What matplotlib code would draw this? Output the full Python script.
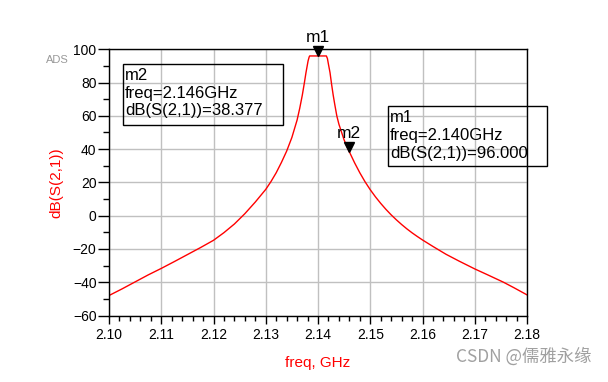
import matplotlib
matplotlib.use('Agg')
import matplotlib.pyplot as plt
from matplotlib.patches import Rectangle
from matplotlib.ticker import MultipleLocator, FormatStrFormatter
import matplotlib.transforms as mtransforms

plt.rcParams['font.family'] = ['Liberation Sans', 'DejaVu Sans']

# S21 curve (GHz, dB)
freq = [2.1000, 2.1025, 2.1050, 2.1075, 2.1100, 2.1125, 2.1150, 2.1175, 2.1200,
        2.1220, 2.1240, 2.1260, 2.1280, 2.1300, 2.1310, 2.1320, 2.1330, 2.1340,
        2.1350, 2.1360, 2.1365, 2.1370, 2.1374, 2.1377, 2.1379, 2.1381, 2.1383,
        2.1384, 2.1400,
        2.1416, 2.1418, 2.1420, 2.1423, 2.1426, 2.1429, 2.1432, 2.1436, 2.1440,
        2.1450, 2.1460, 2.1470, 2.1480, 2.1490, 2.1500, 2.1510, 2.1520, 2.1530,
        2.1540, 2.1550, 2.1560, 2.1570, 2.1580, 2.1590, 2.1600, 2.1620, 2.1645,
        2.1670, 2.1700, 2.1725, 2.1755, 2.1775, 2.1800]
s21_db = [-48.0, -44.0, -39.8, -35.6, -31.7, -27.6, -23.4, -19.2, -14.8,
          -10.2, -5.0, 1.2, 8.2, 15.8, 20.5, 25.8, 32.0, 38.8,
          47.0, 57.5, 64.5, 72.5, 80.0, 86.0, 89.5, 93.0, 95.3,
          96.0, 96.0,
          96.0, 94.5, 91.0, 86.0, 79.0, 72.6, 67.0, 60.0, 55.0,
          45.5, 38.377, 31.8, 25.8, 20.4, 15.6, 11.3, 7.4, 3.8,
          0.5, -2.5, -5.3, -7.9, -10.3, -12.5, -14.6, -18.5, -23.2,
          -27.3, -32.0, -35.6, -40.0, -43.3, -47.6]

markers = ['m1', 'm2']
marker_freq = [2.140, 2.146]
marker_db = [96.000, 38.377]

W, H = 608, 382
fig = plt.figure(figsize=(W / 100, H / 100), dpi=100)
ax = fig.add_axes([109 / W, 1 - 315.5 / H, 418 / W, 266.2 / H])

ax.plot(freq, s21_db, color='red', linewidth=1.0)
ax.set_xlim(2.10, 2.18)
ax.set_ylim(-60, 100)

ax.xaxis.set_major_locator(MultipleLocator(0.01))
ax.xaxis.set_minor_locator(MultipleLocator(0.002))
ax.yaxis.set_major_locator(MultipleLocator(20))
ax.yaxis.set_minor_locator(MultipleLocator(10))
ax.xaxis.set_major_formatter(FormatStrFormatter('%.2f'))
ax.grid(True, which='major', color='#c0c0c0', linewidth=1.0)
ax.set_axisbelow(True)
ax.tick_params(axis='x', which='major', length=6, width=1, labelsize=10, pad=3)
ax.tick_params(axis='x', which='minor', length=3.5, width=1)
ax.tick_params(axis='y', which='major', length=8, width=1, labelsize=10, pad=1)
ax.tick_params(axis='y', which='minor', length=4, width=1)
for s in ax.spines.values():
    s.set_color('black')
    s.set_linewidth(1.0)

ax.set_xlabel('freq, GHz', color='red', fontsize=11, labelpad=10)
ax.set_ylabel('dB(S(2,1))', color='red', fontsize=11, labelpad=7)

# marker triangles and names
tri = mtransforms.offset_copy(ax.transData, fig=fig, x=0, y=3.5, units='points')
for name, f, d in zip(markers, marker_freq, marker_db):
    ax.plot([f], [d], marker='v', color='black', markersize=7.5, transform=tri,
            clip_on=False)
    ax.annotate(name, (f, d), xytext=(0, 13.5), textcoords='offset points',
                ha='center', va='center', fontsize=12.5, annotation_clip=False)

# readout boxes (pixel positions)
def readout(x0, y0, x1, y1, name, f, d):
    fig.patches.append(Rectangle((x0 / W, 1 - y1 / H), (x1 - x0) / W, (y1 - y0) / H,
                                 transform=fig.transFigure, fill=False,
                                 edgecolor='black', linewidth=1.0))
    lines = [name, 'freq=%.3fGHz' % f, 'dB(S(2,1))=%.3f' % d]
    for i, t in enumerate(lines):
        fig.text((x0 + 2) / W, 1 - (y0 + 12 + i * 17.5) / H, t, fontsize=12,
                 ha='left', va='center')

readout(123, 64, 283, 125, markers[1], marker_freq[1], marker_db[1])
readout(388, 106, 547, 166, markers[0], marker_freq[0], marker_db[0])

fig.text(57 / W, 1 - 60 / H, 'ADS', color='#999999', fontsize=8, ha='center',
         va='center')
fig.text(592 / W, 1 - 357 / H, 'CSDN @儒雅永缘', color='#a0a0a0', fontsize=12.5,
         ha='right', va='center', family=['Noto Sans CJK SC', 'DejaVu Sans'])

fig.savefig('out.png', dpi=100)
